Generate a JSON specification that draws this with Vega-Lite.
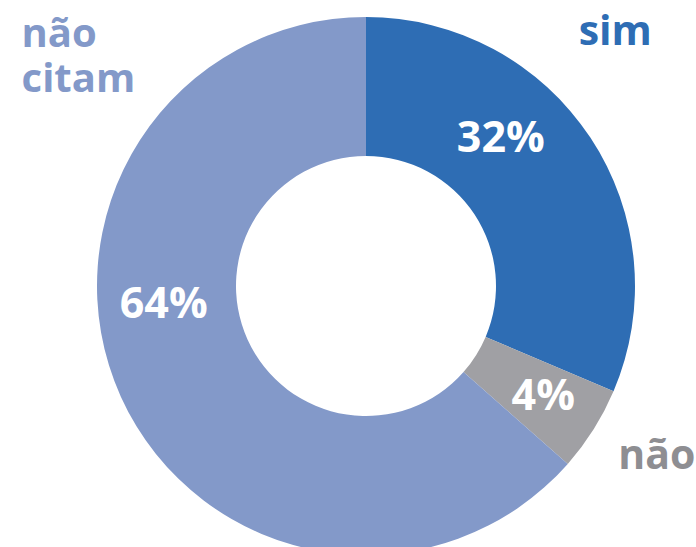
{
  "$schema": "https://vega.github.io/schema/vega-lite/v6.json",
  "autosize": "none",
  "width": 660,
  "height": 522,
  "padding": {"left": 36, "top": 25, "right": 0, "bottom": 0},
  "background": "white",
  "view": {"stroke": null},
  "data": {
    "values": [
      {"categoria": "sim", "valor": 31.4, "ordem": 1, "rotulo": "32%"},
      {"categoria": "não", "valor": 5.1, "ordem": 2, "rotulo": "4%"},
      {"categoria": "não citam", "valor": 63.5, "ordem": 3, "rotulo": "64%"}
    ]
  },
  "encoding": {
    "theta": {"field": "valor", "type": "quantitative", "stack": true},
    "order": {"field": "ordem", "type": "quantitative"}
  },
  "layer": [
    {
      "mark": {"type": "arc", "innerRadius": 130, "outerRadius": 269, "stroke": null},
      "encoding": {
        "color": {
          "field": "categoria", "type": "nominal",
          "scale": {"domain": ["sim", "não", "não citam"], "range": ["#2E6DB4", "#A0A0A4", "#8399C9"]},
          "legend": null
        }
      }
    },
    {
      "mark": {"type": "text", "radius": 200, "dx": -32, "dy": -37, "font": "Open Sans", "fontWeight": "bold", "fontSize": 43, "fill": "white", "align": "center", "baseline": "middle"},
      "encoding": {"text": {"condition": {"test": "datum.categoria === 'sim'", "field": "rotulo"}, "value": ""}}
    },
    {
      "mark": {"type": "text", "radius": 200, "dx": 8, "dy": 4, "font": "Open Sans", "fontWeight": "bold", "fontSize": 43, "fill": "white", "align": "center", "baseline": "middle"},
      "encoding": {"text": {"condition": {"test": "datum.categoria === 'não'", "field": "rotulo"}, "value": ""}}
    },
    {
      "mark": {"type": "text", "radius": 200, "dx": -20, "dy": -63, "font": "Open Sans", "fontWeight": "bold", "fontSize": 43, "fill": "white", "align": "center", "baseline": "middle"},
      "encoding": {"text": {"condition": {"test": "datum.categoria === 'não citam'", "field": "rotulo"}, "value": ""}}
    },
    {
      "mark": {"type": "text", "radius": 300, "dx": -1, "dy": -88, "font": "Open Sans", "fontWeight": "bold", "fontSize": 41, "fill": "#2E6DB4", "align": "center", "baseline": "middle"},
      "encoding": {"text": {"condition": {"test": "datum.categoria === 'sim'", "field": "categoria"}, "value": ""}}
    },
    {
      "mark": {"type": "text", "radius": 300, "dx": 37, "dy": 11, "font": "Open Sans", "fontWeight": "bold", "fontSize": 41, "fill": "#8E8E92", "align": "center", "baseline": "middle"},
      "encoding": {"text": {"condition": {"test": "datum.categoria === 'não'", "field": "categoria"}, "value": ""}}
    },
    {
      "mark": {"type": "text", "radius": 300, "dx": -71, "dy": -374, "font": "Open Sans", "fontWeight": "bold", "fontSize": 40, "fill": "#8399C9", "align": "left", "baseline": "middle", "lineBreak": " ", "lineHeight": 45},
      "encoding": {"text": {"condition": {"test": "datum.categoria === 'não citam'", "field": "categoria"}, "value": ""}}
    }
  ]
}
